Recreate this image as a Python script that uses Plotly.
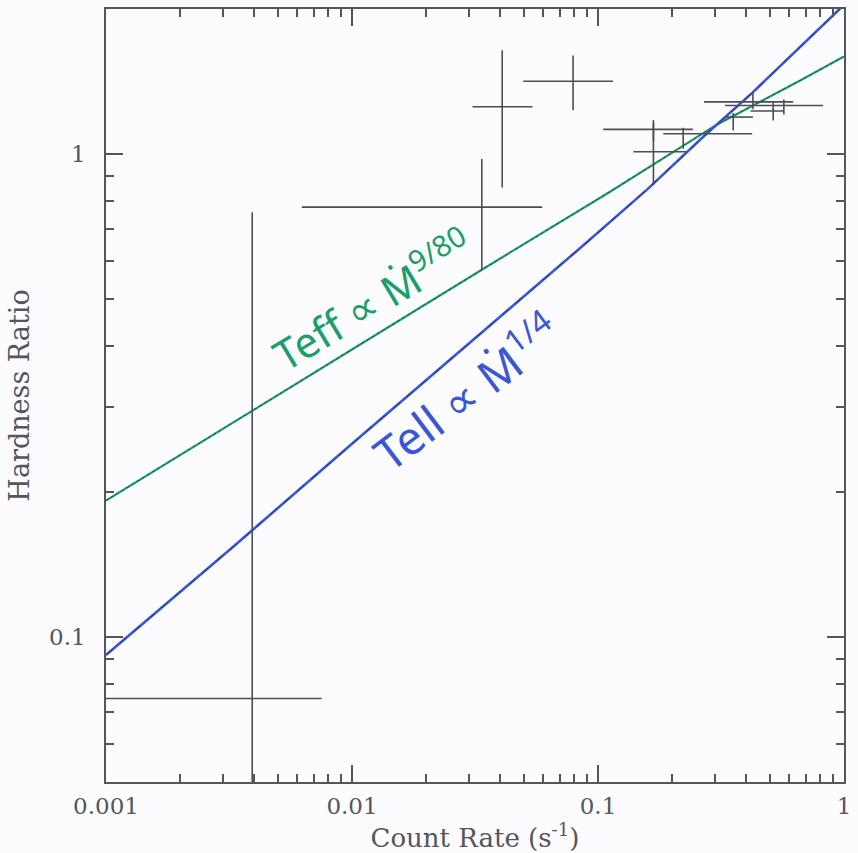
import plotly.graph_objects as go

# ---- observed sources: count rate (s^-1) and hardness ratio, with error ranges ----
rate    = [0.00393, 0.0337, 0.0408, 0.0792, 0.168, 0.168, 0.222, 0.3545, 0.4263, 0.5695, 0.5154]
rate_lo = [0.0003,  0.00625, 0.0309, 0.0497, 0.1392, 0.1049, 0.1843, 0.3281, 0.2696, 0.3281, 0.4172]
rate_hi = [0.00753, 0.0594, 0.0542, 0.1151, 0.2300, 0.2432, 0.4235, 0.4263, 0.6214, 0.8228, 0.5695]
hr      = [0.0745, 0.777, 1.254, 1.417, 1.012, 1.126, 1.103, 1.194, 1.284, 1.262, 1.229]
hr_lo   = [0.02,   0.576, 0.853, 1.234, 0.864, 1.065, 1.026, 1.121, 1.240, 1.209, 1.175]
hr_hi   = [0.758,  0.977, 1.642, 1.601, 1.160, 1.177, 1.135, 1.217, 1.351, 1.299, 1.285]

# ---- model curves ----
# Teff proportional to Mdot^(1/4)
quarter_rate = [0.001, 0.00328, 0.0100, 0.0838, 0.159, 0.270, 0.4235, 0.924, 1.0]
quarter_hr   = [0.0917, 0.1535, 0.2511, 0.6365, 0.8466, 1.091, 1.340, 1.96, 2.04]
# Teff proportional to Mdot^(9/80)
ninety_rate = [0.001, 0.00349, 0.0100, 0.0337, 0.0763, 0.109, 0.305, 0.655, 1.0]
ninety_hr   = [0.1915, 0.2837, 0.3939, 0.5763, 0.742, 0.829, 1.153, 1.4167, 1.595]

INK = "#4d4d55"
AXIS = "#55555c"
GREEN = "#1c9e6c"
BLUE = "#3a56d8"

# build the cross segments for every source
seg_x, seg_y = [], []
for x, xl, xh, y, yl, yh in zip(rate, rate_lo, rate_hi, hr, hr_lo, hr_hi):
    seg_x += [xl, xh, None, x, x, None]
    seg_y += [y, y, None, yl, yh, None]

fig = go.Figure()

fig.add_trace(go.Scatter(x=ninety_rate, y=ninety_hr, mode="lines",
                         line=dict(color=GREEN, width=2.2), hoverinfo="skip"))
fig.add_trace(go.Scatter(x=ninety_rate, y=ninety_hr, mode="lines",
                         line=dict(color="#222", width=1, dash="dot"), opacity=0.5,
                         hoverinfo="skip"))
fig.add_trace(go.Scatter(x=quarter_rate, y=quarter_hr, mode="lines",
                         line=dict(color=BLUE, width=2.6), hoverinfo="skip"))
fig.add_trace(go.Scatter(x=quarter_rate, y=quarter_hr, mode="lines",
                         line=dict(color="#222", width=1, dash="dash"), opacity=0.5,
                         hoverinfo="skip"))
fig.add_trace(go.Scatter(x=seg_x, y=seg_y, mode="lines",
                         line=dict(color=INK, width=1.6), hoverinfo="skip"))

axis_common = dict(
    type="log", dtick=1, showgrid=False, zeroline=False,
    showline=True, linecolor=AXIS, linewidth=1.6, mirror="ticks",
    ticks="inside", ticklen=17, tickwidth=1.5, tickcolor=AXIS,
    minor=dict(ticks="inside", ticklen=8, tickwidth=1.5, tickcolor=AXIS,
               dtick="D1", showgrid=False),
    tickfont=dict(family="DejaVu Serif", size=23, color=AXIS),
)

fig.update_xaxes(range=[-3, 0], ticklabelstandoff=3,
                 title=dict(text="Count Rate (s<sup>-1</sup>)", standoff=6,
                            font=dict(family="DejaVu Serif", size=26, color=AXIS)),
                 **axis_common)
fig.update_yaxes(range=[-1.301, 0.301], ticklabelstandoff=14,
                 title=dict(text="Hardness Ratio", standoff=12,
                            font=dict(family="DejaVu Serif", size=27, color=AXIS)),
                 **axis_common)

W, H = 858, 853
L, R, T, B = 106, 13, 7, 71
pw, ph = W - L - R, H - T - B


def px_to_paper(px, py):
    return (px - L) / pw, (H - B - py) / ph


gx, gy = px_to_paper(372, 298)
bx, by = px_to_paper(466, 390)
fig.add_annotation(x=gx, y=gy, xref="paper", yref="paper", showarrow=False,
                   text="Teff ∝ Ṁ<sup>9/80</sup>", textangle=-31,
                   font=dict(family="Noto Sans", size=42, color=GREEN))
fig.add_annotation(x=bx, y=by, xref="paper", yref="paper", showarrow=False,
                   text="Tell ∝ Ṁ<sup>1/4</sup>", textangle=-37,
                   font=dict(family="Noto Sans", size=46, color=BLUE))

fig.update_layout(
    width=W, height=H, autosize=False,
    margin=dict(l=L, r=R, t=T, b=B),
    paper_bgcolor="#fcfcfe", plot_bgcolor="#fcfcfe",
    showlegend=False,
)

fig.write_html("out.html")
